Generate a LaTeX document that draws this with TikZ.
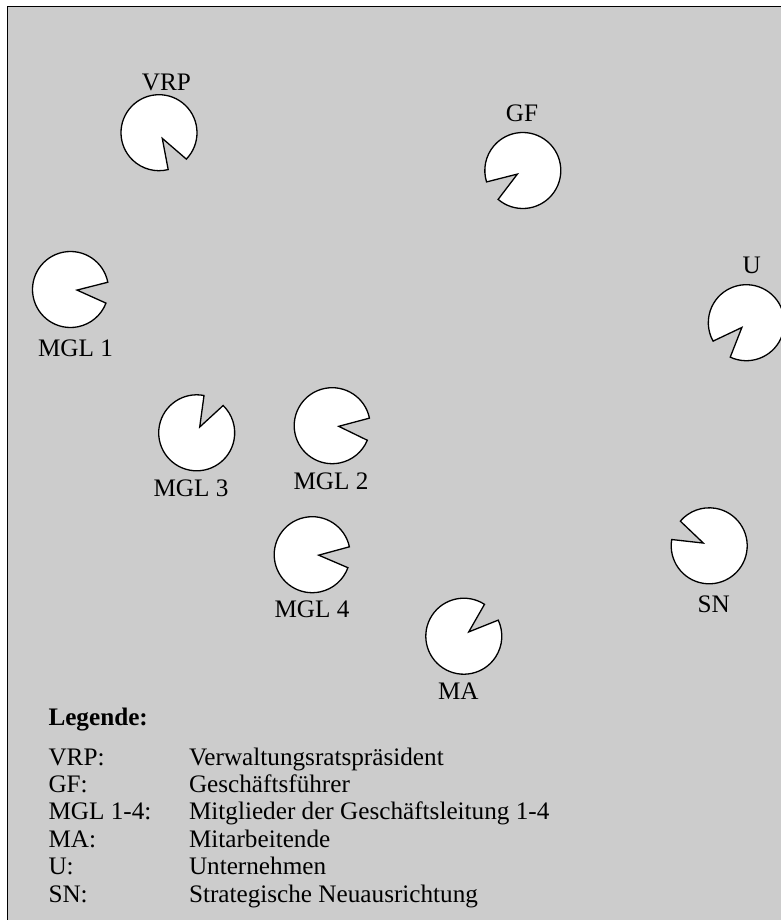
\documentclass[tikz,border=0pt]{standalone}
\usepackage{fontspec}
\setmainfont{Liberation Serif}
\usetikzlibrary{calc}
\definecolor{bggray}{RGB}{204,204,204}
\tikzset{
  pac/.style={draw=black, fill=white, line width=1.3pt, line join=miter},
  frame/.style={draw=black, fill=bggray, line width=1.5pt},
  lbl/.style={inner sep=0pt, font=\fontsize{25.2}{29}\selectfont},
  leg/.style={inner sep=0pt, anchor=base west, font=\fontsize{25.2}{29}\selectfont},
}
% name, x, y (pixels, y down), mouth angle, half width of mouth
\newcommand{\pacfig}[5]{%
  \coordinate (#1) at (#2,-#3);
  \draw[pac] ($(#1)+({#4+#5}:38)$) arc[start angle={#4+#5}, end angle={#4+360-#5}, radius=38]
     -- ($(#1)+(#4:6.5)$) -- cycle;
}
\begin{document}
\begin{tikzpicture}[x=1pt,y=1pt]
  \useasboundingbox (0,0) rectangle (780,-920);
  \fill[white] (0,0) rectangle (780,-920);
  \draw[frame] (7.3,-6.3) rectangle (800,-940);

  \pacfig{vrp}{159}{132.7}{-60}{16}
  \pacfig{gf}{522.8}{170.5}{213.5}{16}
  \pacfig{mgla}{70.5}{289.5}{-5}{16}
  \pacfig{u}{746.3}{322.7}{227}{18}
  \pacfig{mglc}{196.7}{432.8}{62.4}{16.5}
  \pacfig{mglb}{332.2}{425.7}{-5.5}{17}
  \pacfig{mgld}{312.2}{554.7}{-4}{16}
  \pacfig{ma}{463.8}{636.2}{41}{16}
  \pacfig{sn}{709.2}{545.8}{155}{15.5}

  \node[lbl] (lvrp) at (166.5,-82.7) {VRP};
  \node[lbl] (lgf) at (522,-113) {GF};
  \node[lbl] (lmgla) at (75.5,-348) {MGL 1};
  \node[lbl] (lu) at (751.7,-265) {U};
  \node[lbl] (lmglc) at (191,-488.5) {MGL 3};
  \node[lbl] (lmglb) at (331,-481) {MGL 2};
  \node[lbl] (lmgld) at (312,-609) {MGL 4};
  \node[lbl] (lma) at (458.3,-691) {MA};
  \node[lbl] (lsn) at (713.8,-604) {SN};

  \node[leg, font=\fontsize{25.2}{29}\selectfont\bfseries] (legt) at (48.3,-725) {Legende:};
  \node[leg] (k1) at (48.3,-765) {VRP:};
  \node[leg] (v1) at (188.8,-765) {Verwaltungsratspräsident};
  \node[leg] (k2) at (48.3,-792.4) {GF:};
  \node[leg] (v2) at (188.8,-792.4) {Geschäftsführer};
  \node[leg] (k3) at (48.3,-819.8) {MGL 1-4:};
  \node[leg] (v3) at (188.8,-819.8) {Mitglieder der Geschäftsleitung 1-4};
  \node[leg] (k4) at (48.3,-847.2) {MA:};
  \node[leg] (v4) at (188.8,-847.2) {Mitarbeitende};
  \node[leg] (k5) at (48.3,-874.6) {U:};
  \node[leg] (v5) at (188.8,-874.6) {Unternehmen};
  \node[leg] (k6) at (48.3,-902) {SN:};
  \node[leg] (v6) at (188.8,-902) {Strategische Neuausrichtung};
\end{tikzpicture}
\end{document}
